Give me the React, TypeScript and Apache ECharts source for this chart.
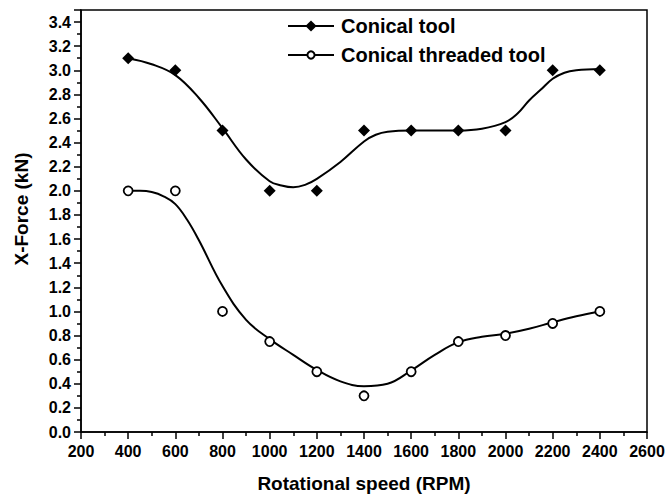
import React, { useEffect, useRef } from "react";
import * as echarts from "echarts";

// Measured points
const speeds = [400, 600, 800, 1000, 1200, 1400, 1600, 1800, 2000, 2200, 2400];
const conicalPts = [3.1, 3.0, 2.5, 2.0, 2.0, 2.5, 2.5, 2.5, 2.5, 3.0, 3.0];
const threadedPts = [2.0, 2.0, 1.0, 0.75, 0.5, 0.3, 0.5, 0.75, 0.8, 0.9, 1.0];

// Fitted curves
const conicalFitX = [400, 500, 600, 700, 800, 900, 1000, 1050, 1100, 1150, 1200, 1300, 1400, 1450, 1500, 1600, 1700, 1800, 1900, 2000, 2050, 2100, 2150, 2200, 2250, 2300, 2400];
const conicalFit = [3.1, 3.05, 2.96, 2.77, 2.52, 2.26, 2.08, 2.045, 2.03, 2.05, 2.1, 2.24, 2.41, 2.465, 2.49, 2.5, 2.5, 2.5, 2.515, 2.57, 2.64, 2.75, 2.84, 2.93, 2.98, 3.0, 3.01];
const threadedFitX = [400, 450, 500, 550, 600, 650, 700, 800, 900, 1000, 1100, 1200, 1300, 1400, 1500, 1600, 1700, 1800, 1900, 2000, 2100, 2200, 2300, 2400];
const threadedFit = [2.0, 2.0, 1.99, 1.955, 1.89, 1.76, 1.59, 1.21, 0.93, 0.77, 0.64, 0.515, 0.42, 0.38, 0.4, 0.51, 0.64, 0.745, 0.79, 0.815, 0.856, 0.91, 0.96, 1.0];

const FONT = "'Liberation Sans', Arial, Helvetica, sans-serif";

export default function App() {
  const ref = useRef<HTMLDivElement>(null);
  useEffect(() => {
    if (!ref.current) return;
    const chart = echarts.init(ref.current, null, { renderer: "svg" });
    const pair = (xs: number[], ys: number[]) => xs.map((x, i) => [x, ys[i]]);
    chart.setOption({
      animation: false,
      backgroundColor: "#fff",
      textStyle: { fontFamily: FONT },
      grid: {
        left: 81,
        right: 21,
        top: 10,
        bottom: 67,
        show: true,
        borderColor: "#000",
        borderWidth: 1.5,
        backgroundColor: "transparent",
      },
      legend: [
        {
          orient: "vertical",
          left: 287,
          top: 16,
          padding: 0,
          itemWidth: 46,
          itemHeight: 14,
          itemGap: 0,
          data: ["Conical tool"],
          textStyle: { fontFamily: FONT, fontWeight: "bold", fontSize: 20, color: "#000", padding: [0, 0, 0, 2] },
        },
        {
          orient: "vertical",
          left: 287,
          top: 45,
          padding: 0,
          itemWidth: 46,
          itemHeight: 9,
          itemGap: 0,
          data: ["Conical threaded tool"],
          textStyle: { fontFamily: FONT, fontWeight: "bold", fontSize: 20, color: "#000", padding: [0, 0, 0, 2] },
        },
      ],
      xAxis: {
        type: "value",
        min: 200,
        max: 2600,
        interval: 200,
        name: "Rotational speed (RPM)",
        nameLocation: "middle",
        nameGap: 42,
        nameTextStyle: { fontFamily: FONT, fontWeight: "bold", fontSize: 19, color: "#000" },
        axisLine: { show: true, lineStyle: { color: "#000", width: 1.5 } },
        axisTick: { show: true, length: 7, lineStyle: { color: "#000", width: 1.5 } },
        minorTick: { show: true, splitNumber: 2, length: 4, lineStyle: { color: "#000", width: 1.5 } },
        splitLine: { show: false },
        axisLabel: {
          margin: 11,
          fontFamily: FONT,
          fontWeight: "bold",
          fontSize: 16,
          color: "#000",
          formatter: (v: number) => String(v),
        },
      },
      yAxis: {
        type: "value",
        min: 0,
        max: 3.5,
        interval: 0.2,
        name: "X-Force (kN)",
        nameLocation: "middle",
        nameGap: 50,
        nameTextStyle: { fontFamily: FONT, fontWeight: "bold", fontSize: 19, color: "#000", padding: [0, 0, 0, 24] },
        axisLine: { show: true, lineStyle: { color: "#000", width: 1.5 } },
        axisTick: { show: true, length: 7, lineStyle: { color: "#000", width: 1.5 } },
        minorTick: { show: true, splitNumber: 2, length: 4, lineStyle: { color: "#000", width: 1.5 } },
        splitLine: { show: false },
        axisLabel: {
          margin: 10,
          fontFamily: FONT,
          fontWeight: "bold",
          fontSize: 16,
          color: "#000",
          showMaxLabel: false,
          formatter: (v: number) => (v > 3.45 ? "" : v.toFixed(1)),
        },
      },
      series: [
        {
          name: "Conical tool",
          type: "line",
          data: pair(conicalFitX, conicalFit),
          smooth: 0.4,
          showSymbol: false,
          symbol: "diamond",
          symbolSize: 12,
          lineStyle: { color: "#000", width: 2 },
          itemStyle: { color: "#000" },
          z: 2,
        },
        {
          name: "Conical tool",
          type: "scatter",
          data: pair(speeds, conicalPts),
          symbol: "diamond",
          symbolSize: 12,
          itemStyle: { color: "#000", opacity: 1 },
          z: 3,
        },
        {
          name: "Conical threaded tool",
          type: "line",
          data: pair(threadedFitX, threadedFit),
          smooth: 0.4,
          showSymbol: false,
          symbol: "emptyCircle",
          symbolSize: 8,
          lineStyle: { color: "#000", width: 2 },
          itemStyle: { color: "#000" },
          z: 2,
        },
        {
          name: "Conical threaded tool",
          type: "scatter",
          data: pair(speeds, threadedPts),
          symbol: "circle",
          symbolSize: 9,
          itemStyle: { color: "#fff", borderColor: "#000", borderWidth: 1.8, opacity: 1 },
          z: 3,
        },
      ],
    });
    return () => chart.dispose();
  }, []);
  return <div ref={ref} style={{ width: 668, height: 499, position: "absolute", left: 0, top: 0, background: "#fff" }} />;
}
